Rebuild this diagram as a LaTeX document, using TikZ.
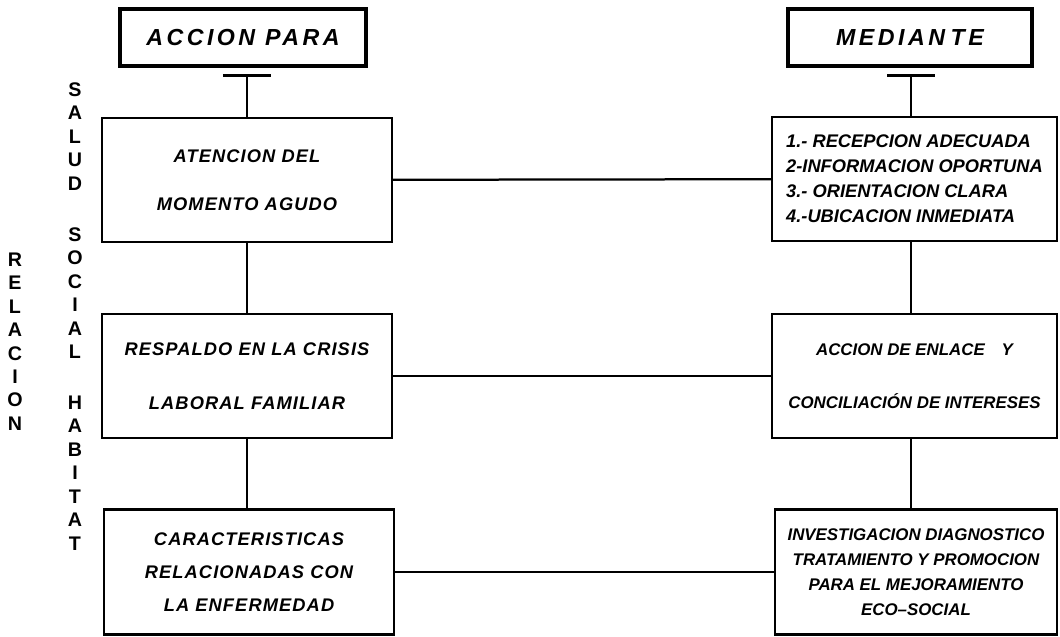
\documentclass[tikz,border=0pt]{standalone}
\usepackage{fontspec}
\setmainfont{Liberation Sans}
\usetikzlibrary{arrows.meta}

\begin{document}
\begin{tikzpicture}[x=0.025cm, y=-0.025cm, line width=1.6pt,
	header/.style={draw, line width=3.2pt, minimum width=6.15cm, minimum height=1.425cm,
	  font=\fontsize{16.5}{20}\selectfont\bfseries\itshape\addfontfeature{LetterSpace=15}},
	stage/.style={draw, minimum width=7.25cm, minimum height=3.1cm, align=center, inner sep=0pt},
	spaced/.style={font=\fontsize{13}{#1}\selectfont\bfseries\itshape\addfontfeature{LetterSpace=6}},
	tight/.style={font=\fontsize{12}{#1}\selectfont\bfseries\itshape},
	vert/.style={align=center, font=\fontsize{14}{16.7}\selectfont\bfseries},
	tee/.style={{Bar[width=1.2cm, line width=2.4pt]}-}]
	\useasboundingbox (0,0) rectangle (1060,637);
	% headers
	\node[header] (accion) at (243,37.5) {ACCION PARA};
	\node[header, minimum width=6.1cm] (mediante) at (910,37.5) {MEDIAN\kern4pt TE};
	% left column
	\node[stage, spaced=34pt] (atencion) at (247,180) {ATENCION DEL\\MOMENTO AGUDO};
	\node[stage, spaced=38pt] (respaldo) at (247,376) {RESPALDO EN LA CRISIS\\LABORAL FAMILIAR};
	\node[stage, spaced=23.4pt, minimum height=3.12cm] (caract) at (249,572) {CARACTERISTICAS\\RELACIONADAS CON\\LA ENFERMEDAD};
	% right column
	\node[stage, tight=17.8pt, font=\fontsize{13}{17.8}\selectfont\bfseries\itshape, minimum width=7.125cm, align=left] (recepcion) at (914.5,179)
	  {1.- RECEPCION ADECUADA\\2-INFORMACION OPORTUNA\\3.- ORIENTACION CLARA\\4.-UBICACION INMEDIATA};
	\node[stage, tight=38pt, minimum width=7.125cm] (enlace) at (914.5,376) {ACCION DE ENLACE\quad Y\\CONCILIACIÓN DE INTERESES};
	\node[stage, tight=17.8pt, minimum width=7.05cm, minimum height=3.12cm] (investig) at (916,572)
	  {INVESTIGACION DIAGNOSTICO\\TRATAMIENTO Y PROMOCION\\PARA EL MEJORAMIENTO\\ECO--SOCIAL};
	% side labels
	\node[vert] (salud) at (75,316.5) {S\\A\\L\\U\\D\\[19.5pt]S\\O\\C\\I\\A\\L\\[19.5pt]H\\A\\B\\I\\T\\A\\T};
	\node[vert] (relacion) at (15,341.5) {R\\E\\L\\A\\C\\I\\O\\N};
	% connectors
	\coordinate (teeA) at (247,74);
	\coordinate (teeB) at (911,74);
	\draw[tee] (teeA) -- (atencion.north);
	\draw[tee] (teeB) -- (teeB |- recepcion.north);
	\draw (atencion.south) -- (respaldo.north);
	\draw (respaldo.south) -- (respaldo.south |- caract.north);
	\draw (teeB |- recepcion.south) -- (teeB |- enlace.north);
	\draw (teeB |- enlace.south) -- (teeB |- investig.north);
	\draw (atencion) -- (recepcion);
	\draw (respaldo) -- (enlace);
	\draw (caract) -- (investig);
\end{tikzpicture}
\end{document}
